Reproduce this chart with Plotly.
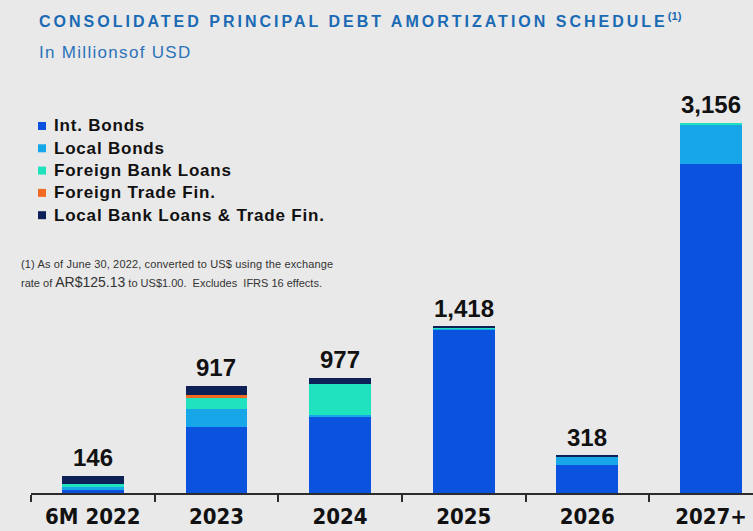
import plotly.graph_objects as go

# Maturity buckets
periods = ["6M 2022", "2023", "2024", "2025", "2026", "2027+"]

# Principal amortization by instrument, USD millions
int_bonds = [25, 560, 645, 1395, 242, 2806]
local_bonds = [30, 155, 20, 8, 68, 335]
foreign_bank_loans = [23, 100, 262, 10, 0, 15]
foreign_trade_fin = [0, 17, 0, 0, 0, 0]
local_bank_loans = [68, 85, 50, 5, 8, 0]

series_names = [
    "Int. Bonds",
    "Local Bonds",
    "Foreign Bank Loans",
    "Foreign Trade Fin.",
    "Local Bank Loans & Trade Fin.",
]
series_values = [int_bonds, local_bonds, foreign_bank_loans, foreign_trade_fin, local_bank_loans]
series_colors = ["#0b52de", "#17a6e8", "#20e2bf", "#f26a22", "#0d2156"]

totals = [sum(v) for v in zip(*series_values)]

W, H = 753, 531
M_L, M_R, M_T, M_B = 31, 0, 71, 38
PW, PH = W - M_L - M_R, H - M_T - M_B

BASE_FONT = "Liberation Sans, Arial, sans-serif"


def px_x(px):
    return (px - M_L) / PW


def px_y(py):
    return (H - M_B - py) / PH


def spaced(text, px):
    return f'<span style="letter-spacing:{px}px">{text}</span>'


fig = go.Figure()
for name, vals, col in zip(series_names, series_values, series_colors):
    fig.add_trace(go.Bar(
        x=periods, y=vals, name=name,
        marker=dict(color=col, line=dict(width=0)),
        showlegend=False,
    ))

# Totals above each bar (category index positions)
for i, t in enumerate(totals):
    fig.add_annotation(
        x=i, y=t, xref="x", yref="y", text=f"<b>{t:,}</b>",
        showarrow=False, yanchor="bottom", yshift=3,
        font=dict(family=BASE_FONT, size=24, color="#111111"),
    )

annotations = []
shapes = []

# Title and subtitle
annotations.append(dict(
    x=px_x(37), y=px_y(20), xref="paper", yref="paper", xanchor="left", yanchor="middle",
    text=spaced("<b>CONSOLIDATED PRINCIPAL DEBT AMORTIZATION SCHEDULE</b>", 3)
    + "<b><sup>(1)</sup></b>",
    showarrow=False, font=dict(family=BASE_FONT, size=16, color="#1a6ab4"),
))
annotations.append(dict(
    x=px_x(37), y=px_y(52), xref="paper", yref="paper", xanchor="left", yanchor="middle",
    text=spaced("In Millionsof USD", 1.3), showarrow=False,
    font=dict(family=BASE_FONT, size=17, color="#2a73ba"),
))

# Legend
for i, (name, col) in enumerate(zip(series_names, series_colors)):
    cy = 126 + 22.3 * i
    shapes.append(dict(
        type="rect", xref="paper", yref="paper",
        x0=px_x(38), x1=px_x(46), y0=px_y(cy + 4), y1=px_y(cy - 4),
        fillcolor=col, line=dict(width=0),
    ))
    annotations.append(dict(
        x=px_x(52), y=px_y(cy), xref="paper", yref="paper", xanchor="left", yanchor="middle",
        text=spaced(f"<b>{name}</b>", 0.8), showarrow=False,
        font=dict(family=BASE_FONT, size=17, color="#111111"),
    ))

# Footnote
annotations.append(dict(
    x=px_x(19), y=px_y(264), xref="paper", yref="paper", xanchor="left", yanchor="middle",
    text=spaced("(1) As of June 30, 2022, converted to US$ using the exchange", 0.15),
    showarrow=False, font=dict(family=BASE_FONT, size=11, color="#333333"),
))
annotations.append(dict(
    x=px_x(19), y=px_y(282), xref="paper", yref="paper", xanchor="left", yanchor="middle",
    text='rate of <span style="font-size:14px">AR$125.13</span> to US$1.00.  Excludes  IFRS 16 effects.',
    showarrow=False, font=dict(family=BASE_FONT, size=11, color="#333333"),
))

for a in annotations:
    fig.add_annotation(**a)

fig.update_layout(
    width=W, height=H,
    margin=dict(l=M_L, r=M_R, t=M_T, b=M_B, pad=0, autoexpand=False),
    paper_bgcolor="#e9e9e9", plot_bgcolor="#e9e9e9",
    barmode="stack", bargap=0.5,
    shapes=shapes,
    xaxis=dict(
        type="category", automargin=False,
        range=[-0.5, 5.34], showline=True, linecolor="#2b2b2b", linewidth=1.5,
        ticks="outside", tickson="boundaries", ticklen=7, tickwidth=1.5, tickcolor="#2b2b2b",
        showgrid=False, zeroline=False, ticklabelstandoff=3,
        tickfont=dict(family="DejaVu Sans Condensed, Liberation Sans, sans-serif",
                      size=22, color="#111111", weight="bold"),
    ),
    yaxis=dict(range=[0, 3600], visible=False, showgrid=False, zeroline=False, automargin=False),
)

fig.write_html("out.html")
